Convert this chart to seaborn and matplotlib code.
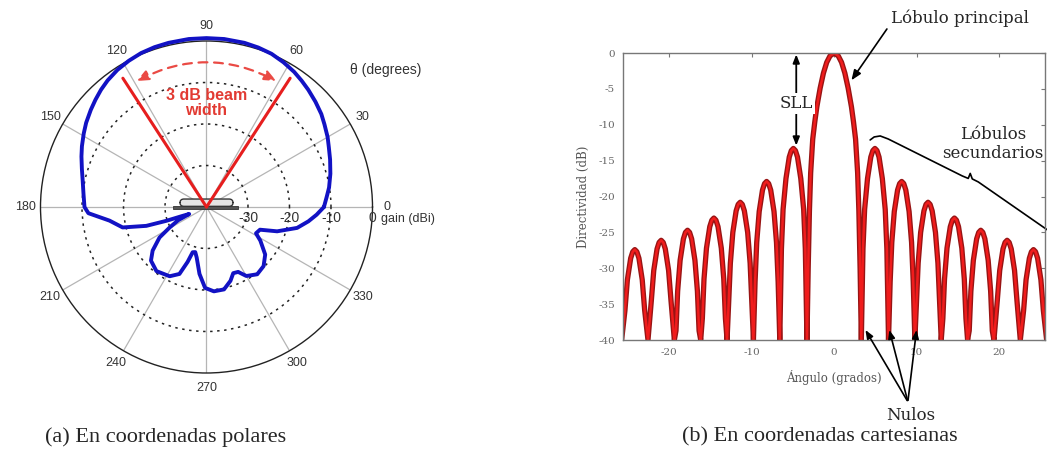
import numpy as np
import matplotlib
matplotlib.use('Agg')
import matplotlib.pyplot as plt
import seaborn as sns
from matplotlib.patches import Rectangle, FancyBboxPatch

# (a) radiation pattern, gain in dBi against angle in degrees
polar_deg = [0, 5, 9, 15, 21, 26, 30, 35, 39, 44, 49, 53, 57, 62, 67, 72, 77, 84, 90, 96,
             103, 108, 113, 118, 123, 128, 132, 136, 140, 145, 149, 154, 158, 163, 168, 174,
             180, 183, 188, 193.7, 197.4, 199, 200.5, 202, 205, 209, 213, 219, 224, 232, 242,
             248, 251, 253, 256, 259, 264, 269, 275, 282, 288, 292, 296, 300, 307, 314, 321,
             328, 332, 337, 341, 347, 352, 356, 360]
polar_gain = [-11.7, -10.9, -10.1, -9.1, -8.1, -7.2, -6.3, -5.3, -4.4, -3.5, -2.6, -1.9, -1.2,
              -0.5, 0.1, 0.4, 0.6, 0.7, 0.7, 0.7, 0.6, 0.5, 0.3, -0.1, -0.6, -1.3, -2.0, -2.8,
              -3.6, -4.6, -5.5, -6.6, -7.5, -8.6, -9.5, -10.2,
              -10.6, -11.5, -16.4, -19.2, -24.8, -29.8, -34.0, -35.5, -32.5, -29.9, -26.5,
              -23.3, -21.4, -20.4, -21.1, -22.6, -26.0, -28.6, -28.8, -27.6, -23.8, -20.5,
              -19.6, -19.7, -21.3, -22.8, -22.6, -20.8, -19.7, -20.2, -21.8, -24.7, -26.5,
              -26.0, -22.0, -17.6, -15.2, -13.4, -11.7]
beam_edges = [57, 123]
theta_ticks = list(range(0, 360, 30))
ring_levels = [-30, -20, -10, 0]

# (b) directivity in dB against angle in degrees (one row per lobe)
af_angle = [
    -25.8, -25.4, -25.1, -24.7, -24.45, -24.2, -23.95, -23.7, -23.3, -23.0, -22.6,
    -22.2, -21.9, -21.5, -21.25, -21.0, -20.75, -20.5, -20.1, -19.8, -19.4,
    -19.2, -19.0, -18.7, -18.3, -18.05, -17.8, -17.55, -17.3, -16.9, -16.6, -16.4, -16.2,
    -16.0, -15.8, -15.5, -15.1, -14.85, -14.6, -14.35, -14.1, -13.7, -13.4, -13.2, -13.0,
    -12.8, -12.6, -12.3, -11.9, -11.65, -11.4, -11.15, -10.9, -10.5, -10.2, -10.0, -9.8,
    -9.6, -9.4, -9.1, -8.7, -8.45, -8.2, -7.95, -7.7, -7.3, -7.0, -6.8, -6.6,
    -6.4, -6.2, -5.85, -5.45, -5.2, -4.95, -4.7, -4.45, -4.05, -3.7, -3.5, -3.3,
    -3.15, -3.0, -2.85, -2.6, -2.35, -2.1, -1.7, -1.3, -0.9, -0.5, 0.0,
    0.5, 0.9, 1.3, 1.7, 2.1, 2.35, 2.6, 2.85, 3.0, 3.15, 3.3,
    3.5, 3.7, 4.05, 4.45, 4.7, 4.95, 5.2, 5.45, 5.85, 6.2, 6.4, 6.6,
    6.8, 7.0, 7.3, 7.7, 7.95, 8.2, 8.45, 8.7, 9.1, 9.4, 9.6, 9.8,
    10.0, 10.2, 10.5, 10.9, 11.15, 11.4, 11.65, 11.9, 12.3, 12.6, 12.8, 13.0,
    13.2, 13.4, 13.7, 14.1, 14.35, 14.6, 14.85, 15.1, 15.5, 15.8, 16.0, 16.2,
    16.4, 16.6, 16.9, 17.3, 17.55, 17.8, 18.05, 18.3, 18.7, 19.0, 19.2, 19.4,
    19.8, 20.1, 20.5, 20.75, 21.0, 21.25, 21.5, 21.9, 22.2, 22.6,
    23.0, 23.3, 23.7, 23.95, 24.2, 24.45, 24.7, 25.1, 25.4, 25.8]
af_db = [
    -40, -35.9, -31.6, -28.6, -27.7, -27.4, -27.7, -28.6, -31.6, -35.9, -40,
    -34.6, -30.3, -27.3, -26.4, -26.1, -26.4, -27.3, -30.3, -34.6, -40,
    -38.7, -33.2, -28.9, -25.9, -25.0, -24.7, -25.0, -25.9, -28.9, -33.2, -38.7, -40,
    -37.0, -31.5, -27.2, -24.2, -23.3, -23.0, -23.3, -24.2, -27.2, -31.5, -37.0, -40,
    -34.8, -29.3, -25.0, -22.0, -21.1, -20.8, -21.1, -22.0, -25.0, -29.3, -34.8, -40,
    -31.9, -26.4, -22.1, -19.1, -18.2, -17.9, -18.2, -19.1, -22.1, -26.4, -31.9, -40,
    -27.3, -21.8, -17.5, -14.5, -13.6, -13.3, -13.6, -14.5, -17.5, -21.8, -27.3, -40,
    -30, -22, -16.7, -12, -9.6, -7.5, -4.9, -2.8, -1.3, -0.4, 0,
    -0.4, -1.3, -2.8, -4.9, -7.5, -9.6, -12, -16.7, -22, -30, -40,
    -27.3, -21.8, -17.5, -14.5, -13.6, -13.3, -13.6, -14.5, -17.5, -21.8, -27.3, -40,
    -31.9, -26.4, -22.1, -19.1, -18.2, -17.9, -18.2, -19.1, -22.1, -26.4, -31.9, -40,
    -34.8, -29.3, -25.0, -22.0, -21.1, -20.8, -21.1, -22.0, -25.0, -29.3, -34.8, -40,
    -37.0, -31.5, -27.2, -24.2, -23.3, -23.0, -23.3, -24.2, -27.2, -31.5, -37.0, -40,
    -38.7, -33.2, -28.9, -25.9, -25.0, -24.7, -25.0, -25.9, -28.9, -33.2, -38.7, -40,
    -34.6, -30.3, -27.3, -26.4, -26.1, -26.4, -27.3, -30.3, -34.6, -40,
    -35.9, -31.6, -28.6, -27.7, -27.4, -27.7, -28.6, -31.6, -35.9, -40]
x_ticks = [-20, -10, 0, 10, 20]
y_ticks = [0, -5, -10, -15, -20, -25, -30, -35, -40]
null_marks = [3.8, 6.7, 10.0]

sns.set_style('white')
plt.rcParams['font.family'] = ['Liberation Sans', 'DejaVu Sans']
plt.rcParams['axes.unicode_minus'] = False
SERIF = 'DejaVu Serif'

fig = plt.figure(figsize=(10.47, 4.57), dpi=100)

# ---------------- (a) polar ----------------
ax = fig.add_axes([0.03868, 0.1838, 0.3171, 0.7265], projection='polar')
ax.set_ylim(-40, 0)
ax.set_thetagrids(theta_ticks, labels=[str(t) for t in theta_ticks])
ax.set_yticks(ring_levels[:-1])
ax.set_yticklabels([])
ax.xaxis.grid(True, color='#b5b5b5', lw=0.9, ls='-')
ax.yaxis.grid(True, color='#222222', lw=1.1, ls=(0, (1.6, 3.0)))
ax.spines['polar'].set_color('#222222')
ax.spines['polar'].set_linewidth(1.0)
ax.tick_params(axis='x', labelsize=9, labelcolor='#333333', pad=0)

sns.lineplot(x=np.deg2rad(polar_deg), y=polar_gain, ax=ax, sort=False,
             color='#1212c4', lw=2.8, clip_on=False, zorder=5, solid_joinstyle='round')

for b in beam_edges:
    ax.plot([np.deg2rad(b)] * 2, [-40, -3.0], color='#e61e1e', lw=2.2, zorder=4)

ax.annotate('', xy=(np.deg2rad(61), -5.3), xytext=(np.deg2rad(119), -5.3),
            arrowprops=dict(arrowstyle='<|-|>,head_length=0.7,head_width=0.3',
                            connectionstyle='arc3,rad=-0.26', ls=(0, (4, 3)),
                            color='#ea4a44', lw=1.6, shrinkA=0, shrinkB=0))
ax.text(0.5, 0.812, '3 dB beam\nwidth', transform=ax.transAxes, ha='center', va='center',
        color='#e23a32', fontsize=11.5, fontweight='bold', linespacing=1.0)

# antenna sketch at the origin
ax.add_patch(FancyBboxPatch((0.42, 0.502), 0.16, 0.022, transform=ax.transAxes,
                            boxstyle='round,pad=0,rounding_size=0.012',
                            fc='#e4e4e4', ec='#333333', lw=1.0, zorder=3, clip_on=False))
ax.add_patch(Rectangle((0.399, 0.493), 0.197, 0.009, transform=ax.transAxes,
                       fc='#555555', ec='#333333', lw=0.6, zorder=3, clip_on=False))

for lvl in ring_levels:
    ax.annotate(str(lvl), xy=(0, lvl), xytext=(0, -3), textcoords='offset points',
                ha='center', va='top', fontsize=10, color='#333333')
fig.text(386 / 1047, 1 - 70 / 457, 'θ (degrees)', ha='center', va='center',
         fontsize=10, color='#333333')
fig.text(381 / 1047, 1 - 219 / 457, 'gain (dBi)', ha='left', va='center',
         fontsize=9, color='#333333')

# ---------------- (b) cartesian ----------------
ax2 = fig.add_axes([0.5953, 0.2560, 0.4028, 0.6280])
sns.lineplot(x=af_angle, y=af_db, ax=ax2, sort=False, color='#981414', lw=3.8,
             solid_joinstyle='round')
sns.lineplot(x=af_angle, y=af_db, ax=ax2, sort=False, color='#f01c1c', lw=1.8,
             solid_joinstyle='round')
ax2.set_xlim(-25.6, 25.6)
ax2.set_ylim(-40, 0)
ax2.set_xticks(x_ticks)
ax2.set_yticks(y_ticks)
ax2.tick_params(direction='in', top=True, right=True, length=3, width=0.8,
                color='#777777', labelcolor='#666666', labelsize=7.5, pad=6)
for lab in ax2.get_xticklabels() + ax2.get_yticklabels():
    lab.set_family(SERIF)
for s in ax2.spines.values():
    s.set_color('#777777')
    s.set_linewidth(1.0)
ax2.set_xlabel('Ángulo (grados)', fontsize=8.5, color='#555555', family=SERIF)
ax2.xaxis.set_label_coords(0.5, -0.105)
ax2.set_ylabel('Directividad (dB)', fontsize=8.5, color='#555555', family=SERIF)
ax2.yaxis.set_label_coords(-0.078, 0.5)

arrow = dict(arrowstyle='-|>,head_length=0.5,head_width=0.2', color='black', lw=1.2,
             shrinkA=1, shrinkB=0)
ax2.annotate('Lóbulo principal', xy=(2.1, -3.8), xytext=(6.9, 4.9), ha='left', va='center',
             fontsize=12, family=SERIF, annotation_clip=False,
             arrowprops=dict(arrow, relpos=(0.0, 0.2)))
ax2.annotate('', xy=(-4.6, -0.2), xytext=(-4.6, -12.9),
             arrowprops=dict(arrowstyle='<|-|>,head_length=0.5,head_width=0.2', color='black',
                             lw=1.3, shrinkA=0, shrinkB=0))
ax2.text(-4.6, -7.0, 'SLL', ha='center', va='center', fontsize=12, family=SERIF,
         bbox=dict(fc='white', ec='none', pad=1.5))
ax2.text(19.3, -12.7, 'Lóbulos\nsecundarios', ha='center', va='center', fontsize=12,
         family=SERIF, linespacing=1.2)
ax2.plot([4.37, 4.86, 5.59, 6.56, 15.55, 16.28, 16.52, 16.77, 17.50, 25.88],
         [-12.12, -11.70, -11.56, -11.98, -17.13, -17.48, -16.78, -17.55, -17.97, -24.65],
         color='black', lw=1.2, clip_on=False)
for nx in null_marks:
    ax2.annotate('', xy=(nx, -38.6), xytext=(8.95, -48.6), arrowprops=arrow,
                 annotation_clip=False)
ax2.text(9.3, -50.5, 'Nulos', ha='center', va='center', fontsize=12, family=SERIF,
         clip_on=False)

# captions
fig.text(166 / 1047, 1 - 437 / 457, '(a) En coordenadas polares', ha='center', va='center',
         family='Liberation Serif', fontsize=16)
fig.text(820 / 1047, 1 - 437 / 457, '(b) En coordenadas cartesianas', ha='center',
         va='center', family='Liberation Serif', fontsize=16)

fig.savefig('out.png', dpi=100)
